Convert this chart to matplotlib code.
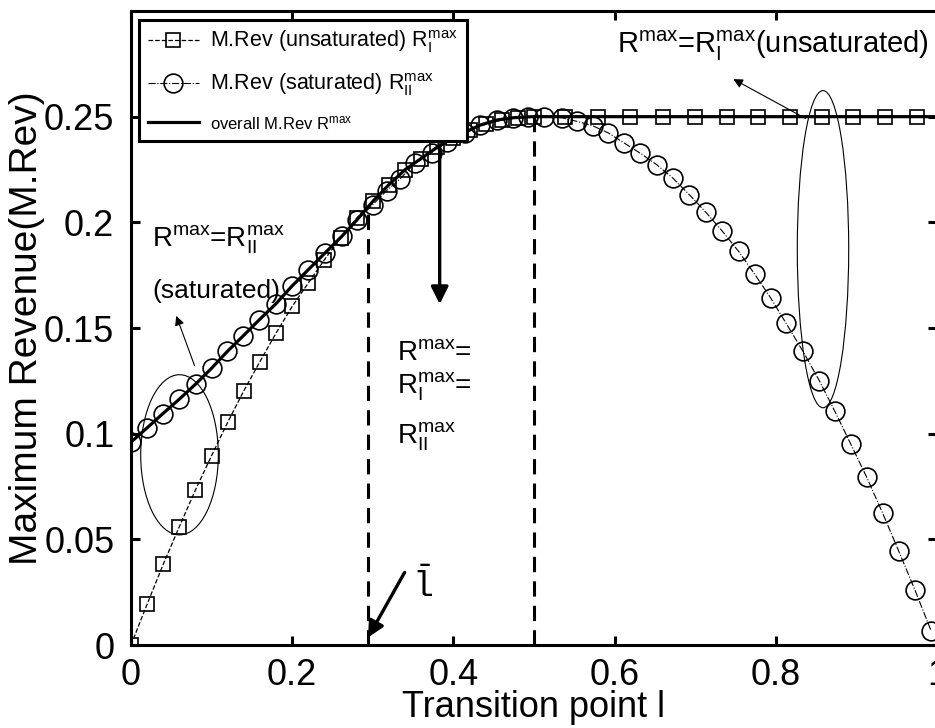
import numpy as np
import matplotlib.pyplot as plt
from matplotlib.patches import Ellipse

plt.rcParams['font.family'] = ['Liberation Sans', 'DejaVu Sans']
plt.rcParams['mathtext.fontset'] = 'custom'
plt.rcParams['mathtext.rm'] = 'Liberation Sans'
plt.rcParams['mathtext.it'] = 'Liberation Sans'
plt.rcParams['mathtext.tt'] = 'Liberation Mono'
plt.rcParams['mathtext.default'] = 'regular'

# unsaturated M.Rev (squares)
l_unsat = [0.00, 0.02, 0.04, 0.06, 0.08, 0.10, 0.12, 0.14, 0.16, 0.18,
           0.20, 0.22, 0.24, 0.26, 0.28, 0.30, 0.32, 0.34, 0.36, 0.38,
           0.40, 0.42, 0.44, 0.46, 0.48, 0.50,
           0.538, 0.580, 0.619, 0.660, 0.700, 0.739, 0.778, 0.818,
           0.857, 0.896, 0.936, 0.975]
r_unsat = [0.0000, 0.0193, 0.0382, 0.0560, 0.0734, 0.0896, 0.1054, 0.1203,
           0.1341, 0.1476, 0.1602, 0.1713, 0.1823, 0.1926, 0.2020, 0.2099,
           0.2178, 0.2249, 0.2302, 0.2356, 0.2400, 0.2436, 0.2464, 0.2484,
           0.2496, 0.2500,
           0.25, 0.25, 0.25, 0.25, 0.25, 0.25, 0.25, 0.25,
           0.25, 0.25, 0.25, 0.25]

# saturated M.Rev (circles)
l_sat = [0.000, 0.0195, 0.0393, 0.0599, 0.0806, 0.1001, 0.1195, 0.1393,
         0.1592, 0.1799, 0.1994, 0.2200, 0.2407, 0.2614, 0.2800, 0.2999,
         0.3172, 0.3337, 0.3524, 0.3731, 0.3927, 0.4144, 0.4330, 0.4537,
         0.4743, 0.4929, 0.5124, 0.5344, 0.5530, 0.5728, 0.5922, 0.6120,
         0.6315, 0.6522, 0.6721, 0.6927, 0.7134, 0.7333, 0.7540, 0.7738,
         0.7937, 0.8127, 0.8334, 0.8540, 0.8734, 0.8929, 0.9128, 0.9326,
         0.9525, 0.9727, 0.9926]
r_sat = [0.0960, 0.1026, 0.1094, 0.1163, 0.1236, 0.1310, 0.1389, 0.1463,
         0.1539, 0.1615, 0.1697, 0.1776, 0.1855, 0.1933, 0.2010, 0.2083,
         0.2150, 0.2205, 0.2280, 0.2330, 0.2380, 0.2423, 0.2460, 0.2484,
         0.2495, 0.2499, 0.2499, 0.2495, 0.2478, 0.2457, 0.2423, 0.2375,
         0.2328, 0.2273, 0.2210, 0.2131, 0.2047, 0.1960, 0.1862, 0.1755,
         0.1642, 0.1523, 0.1392, 0.1251, 0.1105, 0.0952, 0.0794, 0.0624,
         0.0445, 0.0260, 0.0068]

l_bar = 0.294   # 交点
l_half = 0.5

# overall = upper envelope of the two curves
grid = np.union1d(np.union1d(l_unsat, l_sat), [1.0])
r_all = np.maximum(np.interp(grid, l_unsat, r_unsat), np.interp(grid, l_sat, r_sat))
r_all[grid < l_bar] = np.interp(grid[grid < l_bar], l_sat, r_sat)

fig = plt.figure(figsize=(9.35, 7.28), dpi=100)
ax = fig.add_axes([0.1401, 0.1140, 0.8620, 0.8709])

h1, = ax.plot(l_unsat, r_unsat, 'k--', lw=0.9, marker='s', ms=10, mfc='none', mew=1.2,
              label=r'M.Rev (unsaturated) $R_I^{max}$')
h2, = ax.plot(l_sat, r_sat, 'k-.', lw=0.8, marker='o', ms=13.5, mfc='none', mew=1.2,
              label=r'M.Rev (saturated) $R_{II}^{max}$')
h3, = ax.plot(grid, r_all, 'k-', lw=2.3, label=r'overall M.Rev $R^{max}$')

# vertical dashed markers
ax.plot([l_bar, l_bar], [0, np.interp(l_bar, l_sat, r_sat)], 'k', lw=2.2, ls=(0, (5, 3)))
ax.plot([l_half, l_half], [0, 0.25], 'k', lw=2.2, ls=(0, (5, 3)))

# ellipses
ax.add_patch(Ellipse((0.0602, 0.0900), 0.0963, 0.0758, fill=False, lw=0.8, ec='k'))
ax.add_patch(Ellipse((0.8586, 0.1873), 0.0638, 0.1501, fill=False, lw=0.8, ec='k'))

# arrows
ax.annotate('', xy=(0.7443, 0.2684), xytext=(0.840, 0.2485),
            arrowprops=dict(arrowstyle='-|>', lw=0.8, color='k', mutation_scale=14))
ax.annotate('', xy=(0.055, 0.157), xytext=(0.080, 0.131),
            arrowprops=dict(arrowstyle='-|>', lw=0.8, color='k', mutation_scale=14))
ax.annotate('', xy=(0.383, 0.160), xytext=(0.383, 0.238),
            arrowprops=dict(arrowstyle='-|>', lw=2.4, color='k', mutation_scale=26))
ax.annotate('', xy=(0.2924, 0.0024), xytext=(0.3412, 0.0355),
            arrowprops=dict(arrowstyle='-|>', lw=2.4, color='k', mutation_scale=24))

# texts
ax.text(0.026, 0.1886, r'$R^{max}$=$R_{II}^{max}$', fontsize=20, va='baseline')
ax.text(0.026, 0.1643, '(saturated)', fontsize=19, va='baseline')
ax.text(0.3297, 0.1349, r'$R^{max}$=', fontsize=20, va='baseline')
ax.text(0.3297, 0.1188, r'$R_I^{max}$=', fontsize=20, va='baseline')
ax.text(0.3297, 0.0952, r'$R_{II}^{max}$', fontsize=20, va='baseline')
ax.text(0.6026, 0.2802, r'$R^{max}$=$R_I^{max}$(unsaturated)', fontsize=21, va='baseline')
ax.text(0.362, 0.0225, r'$\bar{\mathtt{l}}$', fontsize=25, va='baseline', ha='center')

ax.set_xlim(0, 1)
ax.set_ylim(0, 0.3)
ax.set_xticks([0, 0.2, 0.4, 0.6, 0.8, 1])
ax.set_xticklabels(['0', '0.2', '0.4', '0.6', '0.8', '1'])
ax.set_yticks([0, 0.05, 0.1, 0.15, 0.2, 0.25])
ax.set_yticklabels(['0', '0.05', '0.1', '0.15', '0.2', '0.25'])
ax.tick_params(direction='in', length=6.5, width=2.2, labelsize=26,
               top=True, right=True)
ax.tick_params(axis='x', pad=9)
ax.tick_params(axis='y', pad=12)
for sp in ax.spines.values():
    sp.set_linewidth(2.2)

ax.set_xlabel('Transition point l', fontsize=26, labelpad=-2)
ax.set_ylabel('Maximum Revenue(M.Rev)', fontsize=28, labelpad=-1)

leg = ax.legend(handles=[h1, h2, h3], loc='upper left', bbox_to_anchor=(0.0099, 0.9858),
                borderaxespad=0, fontsize=15.5, handlelength=2.4, handletextpad=0.5,
                fancybox=False, framealpha=1, edgecolor='k', borderpad=0.4,
                labelspacing=0.75)
leg.get_frame().set_linewidth(2.2)
leg.get_texts()[2].set_fontsize(12)
leg.set_zorder(10)

fig.savefig('out.png', dpi=100)
